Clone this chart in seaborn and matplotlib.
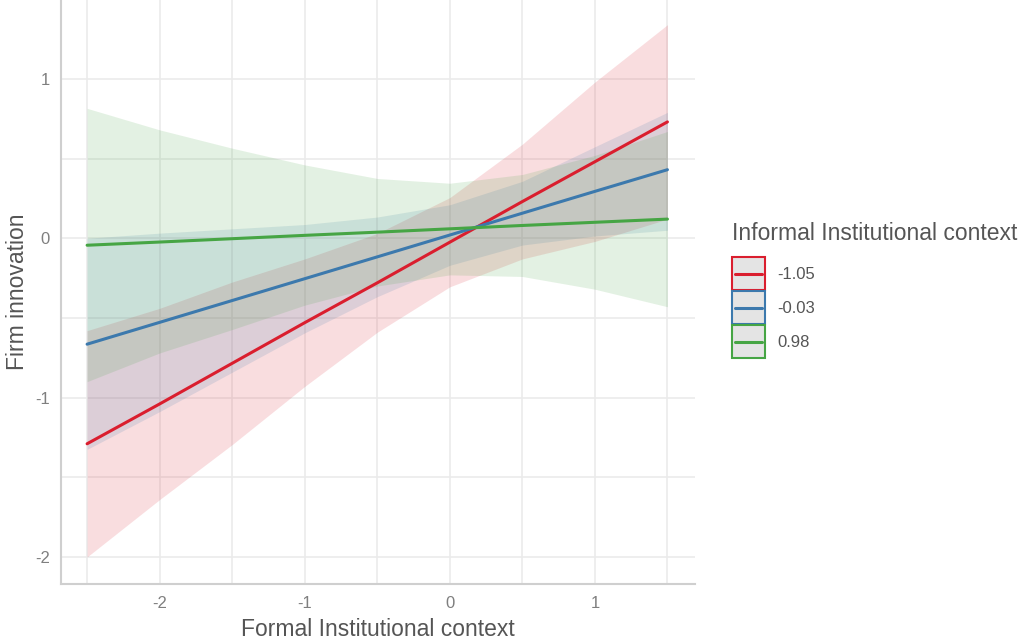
import numpy as np
import pandas as pd
import matplotlib
matplotlib.use("Agg")
import matplotlib.pyplot as plt
from matplotlib.lines import Line2D
from matplotlib.patches import Rectangle
from matplotlib.legend_handler import HandlerBase
import seaborn as sns

# values
x_vals = [-2.5, -2.0, -1.5, -1.0, -0.5, 0.0, 0.5, 1.0, 1.5]
groups = ["-1.05", "-0.03", "0.98"]
colors = ["#DA1E2E", "#3C79AD", "#46A544"]

pred_low = [-1.29, -1.04, -0.785, -0.53, -0.28, -0.025, 0.23, 0.48, 0.73]
ci_low_lo = [-2.00, -1.64, -1.295, -0.93, -0.59, -0.305, -0.13, -0.02, 0.12]
ci_low_hi = [-0.58, -0.44, -0.275, -0.13, 0.03, 0.255, 0.59, 0.98, 1.34]

pred_mid = [-0.665, -0.528, -0.391, -0.254, -0.117, 0.02, 0.157, 0.294, 0.43]
ci_mid_lo = [-1.325, -1.088, -0.841, -0.594, -0.367, -0.17, -0.043, 0.014, 0.05]
ci_mid_hi = [0.0, 0.032, 0.059, 0.086, 0.133, 0.21, 0.357, 0.574, 0.79]

pred_high = [-0.044, -0.024, -0.003, 0.018, 0.038, 0.059, 0.08, 0.10, 0.12]
ci_high_lo = [-0.90, -0.72, -0.573, -0.42, -0.30, -0.23, -0.24, -0.32, -0.43]
ci_high_hi = [0.815, 0.68, 0.565, 0.46, 0.375, 0.345, 0.40, 0.52, 0.67]

preds = [pred_low, pred_mid, pred_high]
lows = [ci_low_lo, ci_mid_lo, ci_high_lo]
highs = [ci_low_hi, ci_mid_hi, ci_high_hi]

df = pd.concat([
    pd.DataFrame({"x": x_vals, "pred": p, "lo": lo, "hi": hi, "group": g})
    for g, p, lo, hi in zip(groups, preds, lows, highs)
], ignore_index=True)


class KeyHandler(HandlerBase):
    '''grey box with coloured border and a line through the middle'''
    def create_artists(self, legend, orig_handle, xdescent, ydescent,
                       width, height, fontsize, trans):
        c = orig_handle.get_color()
        box = Rectangle((-xdescent, -ydescent), width, height,
                        facecolor="#e4e4e4", edgecolor=c, linewidth=1.5,
                        transform=trans)
        mid = -ydescent + height / 2
        line = Line2D([-xdescent + 0.1 * width, -xdescent + 0.9 * width],
                      [mid, mid], color=c, linewidth=2.2, transform=trans)
        return [box, line]


sns.set_theme(style="white")
plt.rcParams["font.family"] = ["Liberation Sans", "DejaVu Sans"]
plt.rcParams["axes.unicode_minus"] = False

fig = plt.figure(figsize=(10.27, 6.42), dpi=100)
ax = fig.add_axes([61 / 1027, 1 - 584 / 642, 634 / 1027, 584 / 642])

for g, c in zip(groups, colors):
    sub = df[df["group"] == g]
    ax.fill_between(sub["x"], sub["lo"], sub["hi"], color=c, alpha=0.15,
                    linewidth=0)

sns.lineplot(data=df, x="x", y="pred", hue="group", hue_order=groups,
             palette=colors, linewidth=2.2, legend=False, ax=ax, zorder=3)

ax.set_xlim(-2.68, 1.69)
ax.set_ylim(-2.17, 1.495)
ax.set_xticks([-2, -1, 0, 1])
ax.set_yticks([-2, -1, 0, 1])
ax.set_xticks([-2.5, -1.5, -0.5, 0.5, 1.5], minor=True)
ax.set_yticks([-1.5, -0.5, 0.5], minor=True)
ax.grid(True, which="both", color="#ebebeb", linewidth=1.2)
ax.set_axisbelow(True)
ax.tick_params(which="both", length=0, labelsize=12, labelcolor="#7f7f7f",
               pad=8)
ax.tick_params(axis="x", pad=9)

for s in ["top", "right"]:
    ax.spines[s].set_visible(False)
for s in ["left", "bottom"]:
    ax.spines[s].set_color("#cfcfcf")
    ax.spines[s].set_linewidth(1.5)

ax.set_xlabel("Formal Institutional context", fontsize=16.5, color="#555555",
              labelpad=5)
ax.set_ylabel("Firm innovation", fontsize=16.5, color="#555555", labelpad=4)

# legend title drawn on its own so the gap to the keys matches
fig.text(732 / 1027, 1 - 234 / 642, "Informal Institutional context",
         fontsize=16.5, color="#555555", va="center", ha="left")
handles = [Line2D([], [], color=c) for c in colors]
leg = fig.legend(handles, groups, loc="upper left",
                 bbox_to_anchor=(732 / 1027, 1 - 257 / 642),
                 frameon=False, fontsize=12,
                 handler_map={Line2D: KeyHandler()},
                 handlelength=1.98, handleheight=2.67, handletextpad=0.75,
                 labelspacing=0.06, borderaxespad=0, borderpad=0)
for t in leg.get_texts():
    t.set_color("#555555")

fig.savefig("out.png", dpi=100)
